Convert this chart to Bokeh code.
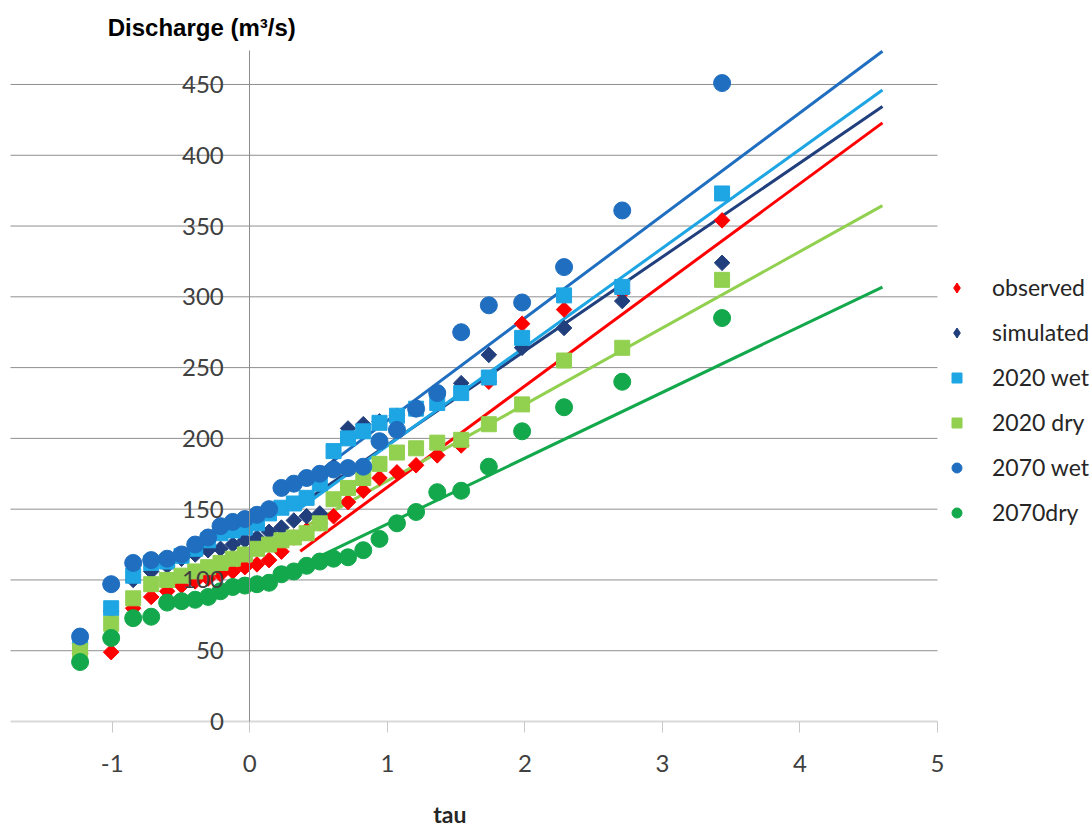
import numpy as np
from bokeh.plotting import figure
from bokeh.models import Range1d, FixedTicker, Legend, LegendItem, Label
from bokeh.embed import file_html
from bokeh.resources import INLINE

# Gumbel reduced variate (tau) of the 30 ranked annual maxima
tau = [-1.234, -1.008, -0.848, -0.717, -0.601, -0.496, -0.397, -0.303, -0.213, -0.124,
       -0.036, 0.052, 0.140, 0.230, 0.320, 0.413, 0.509, 0.609, 0.714, 0.825,
       0.943, 1.070, 1.209, 1.363, 1.537, 1.738, 1.980, 2.285, 2.708, 3.434]

observed = [48, 49, 80, 88, 92, 96, 99, 101, 104, 106,
            109, 111, 114, 120, 130, 135, 140, 145, 155, 163,
            172, 176, 181, 188, 195, 240, 281, 291, 303, 354]
simulated = [55, 78, 100, 106, 110, 115, 118, 121, 122, 125,
             128, 130, 134, 137, 142, 145, 147, 180, 207, 210,
             212, 216, 222, 232, 239, 259, 264, 278, 297, 324]
wet2020 = [57, 80, 103, 112, 113, 117, 122, 128, 133, 135,
           137, 140, 147, 151, 154, 158, 168, 191, 200, 205,
           211, 216, 221, 225, 232, 243, 271, 301, 307, 373]
dry2020 = [50, 69, 87, 97, 100, 103, 106, 109, 112, 115,
           118, 122, 125, 128, 130, 133, 140, 157, 165, 172,
           182, 190, 193, 197, 199, 210, 224, 255, 264, 312]
wet2070 = [60, 97, 112, 114, 115, 118, 125, 130, 138, 141,
           143, 146, 150, 165, 168, 172, 175, 178, 179, 180,
           198, 206, 221, 232, 275, 294, 296, 321, 361, 451]
dry2070 = [42, 59, 73, 74, 84, 85, 86, 88, 92, 95,
           96, 97, 98, 104, 106, 110, 113, 115, 116, 121,
           129, 140, 148, 162, 163, 180, 205, 222, 240, 285]

series_names = ["observed", "simulated", "2020 wet", "2020 dry", "2070 wet", "2070dry"]
series_values = [observed, simulated, wet2020, dry2020, wet2070, dry2070]
series_colors = ["#FF0000", "#213F7D", "#1EA5E3", "#92D050", "#1F6EC0", "#12A84B"]
series_markers = ["diamond", "diamond", "square", "square", "circle", "circle"]

# Gumbel fit lines Q = intercept + slope * tau, drawn from T=2 to T=100 years
fit_intercepts = [94, 129, 125, 116, 140, 93]
fit_slopes = [71.5, 66.4, 69.8, 54, 72.5, 46.5]
fit_tau = [0.367, 4.6]

x_ticks = [-1, 0, 1, 2, 3, 4, 5]
y_ticks = [0, 50, 100, 150, 200, 250, 300, 350, 400, 450]
x_lo, x_hi = -1.74, 5.0
y_top = 474

# frame covers the whole canvas; plot area is px 10..937 x 50..721
PX_X = 137.5
PX_Y = 1.4156
p = figure(width=1092, height=829,
           x_range=Range1d(x_lo - 10 / PX_X, x_hi + (1092 - 937) / PX_X),
           y_range=Range1d(-(829 - 721) / PX_Y, 721 / PX_Y),
           output_backend="svg", toolbar_location=None, min_border=0)
p.outline_line_color = None
p.background_fill_color = "white"
p.xgrid.grid_line_color = None
p.ygrid.grid_line_color = None

# horizontal gridlines limited to the plot area
grid_vals = y_ticks[1:]
p.segment(x0=[x_lo] * len(grid_vals), y0=grid_vals, x1=[x_hi] * len(grid_vals), y1=grid_vals,
          line_color="#8f8f8f", line_width=1)

# axes crossing at 0
p.xaxis.fixed_location = 0
p.yaxis.fixed_location = 0
p.xaxis.bounds = (x_lo, x_hi)
p.yaxis.bounds = (0, y_top)
p.xaxis.ticker = FixedTicker(ticks=x_ticks)
p.yaxis.ticker = FixedTicker(ticks=y_ticks)
p.xaxis.major_label_overrides = {t: str(t) for t in x_ticks}
for ax in (p.xaxis, p.yaxis):
    ax.minor_tick_line_color = None
    ax.major_label_text_font = "Lato"
    ax.major_label_text_font_size = "24px"
    ax.major_label_text_color = "#404040"
p.yaxis.major_tick_out = 0
p.yaxis.major_tick_in = 0
p.yaxis.major_label_standoff = 26
p.yaxis.axis_line_color = "#8c8c8c"
p.xaxis.major_tick_out = 11
p.xaxis.major_tick_in = 0
p.xaxis.major_tick_line_color = "#c8c8c8"
p.xaxis.axis_line_color = "#d9d9d9"
p.xaxis.axis_line_width = 2
p.xaxis.major_label_standoff = 22

# fit lines
for a, b, c in zip(fit_intercepts, fit_slopes, series_colors):
    xs = np.array(fit_tau)
    p.line(xs, a + b * xs, line_color=c, line_width=3)

# markers
items = []
for name, vals, c, m in zip(series_names, series_values, series_colors, series_markers):
    if m == "diamond":
        p.scatter(tau, vals, marker="square", angle=np.pi / 4, size=11,
                  fill_color=c, line_color=c)
        # legend swatch only (not plotted: NaN position)
        r = p.scatter(x=[np.nan], y=[np.nan], marker="diamond", size=11,
                      fill_color=c, line_color=c)
    elif m == "square":
        r = p.scatter(tau, vals, marker="square", size=15, fill_color=c, line_color=c)
    else:
        r = p.scatter(tau, vals, marker="circle", size=17, fill_color=c, line_color=c)
    items.append(LegendItem(label=name, renderers=[r]))

legend = Legend(items=items, location=(944, 303), glyph_width=25, glyph_height=25,
                spacing=17, padding=0, margin=0, border_line_color=None,
                background_fill_alpha=0, label_standoff=23,
                label_text_font="Lato", label_text_font_size="23px",
                label_text_color="#262626")
p.add_layout(legend, "center")

p.add_layout(Label(x=-1.033, y=490, text="Discharge (m³/s)", text_font="Liberation Sans",
                   text_font_style="bold", text_font_size="24px", text_color="black",
                   text_baseline="middle", text_align="left"))
p.add_layout(Label(x=1.455, y=-65.5, text="tau", text_font="Lato",
                   text_font_style="bold", text_font_size="23px", text_color="#262626",
                   text_baseline="middle", text_align="center"))

open("out.html", "w").write(file_html(p, INLINE))
